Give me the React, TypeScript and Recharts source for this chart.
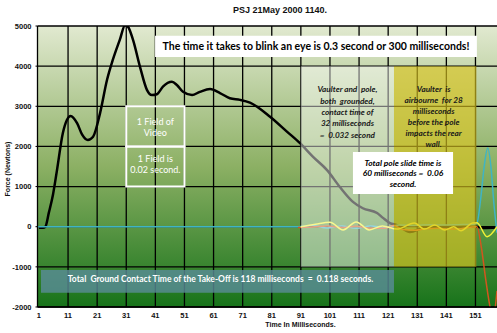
import React from "react"
import { LineChart, Line, XAxis, YAxis, CartesianGrid, ReferenceArea } from "recharts"

const xTicks = [1, 11, 21, 31, 41, 51, 61, 71, 81, 91, 101, 111, 121, 131, 141, 151]
const yTicks = [-2000, -1000, 0, 1000, 2000, 3000, 4000, 5000]
const minorTicks: number[] = []
for (let v = -2000; v <= 5000; v += 200) minorTicks.push(v)

// force plate trace (black)
const forceTime = [1, 2.4, 3.2, 4.4, 5.8, 7.2, 9.2, 10.6, 11.9, 14.1, 15.8, 17.8, 19.6, 22, 24.4, 26.4, 28.8, 30.6, 31.6, 33.3, 35.7, 38.1, 39.8, 41.5, 43.6, 46.7, 48.4, 50.5, 53.6, 56.3, 59.8, 63.2, 66.6, 70.1, 73.5, 80.4, 86.2, 90.7, 95.2, 100, 104.4, 108.9, 112.3, 117.2, 119.2, 121.6, 124, 128.5, 133, 137.8, 146.7, 151.5, 153.6, 158.4]
const forceNewtons = [-25, -25, 0, 350, 790, 1410, 2330, 2660, 2760, 2580, 2300, 2160, 2240, 2830, 3660, 4160, 4660, 5020, 4980, 4660, 3990, 3410, 3280, 3300, 3490, 3610, 3530, 3360, 3280, 3360, 3430, 3330, 3200, 3160, 3090, 2740, 2370, 2080, 1740, 1410, 990, 620, 460, 340, 220, 90, 40, -130, -30, 0, 0, 0, -30, -20]

// pole box traces
const cyanTime = [0.5, 90, 95, 100, 105, 110, 115, 120, 125, 130, 135, 140, 145, 150, 151.5, 152.8, 154, 155.2, 156.3, 157.3, 158.4]
const cyanValue = [0, 0, 30, -30, 20, -40, 20, -20, 40, 30, 50, 40, 50, 60, 90, 700, 1500, 1960, 1500, 600, -150]

const orangeTime = [90, 95, 100, 105, 110, 115, 120, 123, 126, 130, 134, 138, 142, 146, 150, 151.5, 153, 154.5, 156, 157, 158.4]
const orangeValue = [-20, -10, 20, -20, 10, -40, -40, 30, -70, -90, -50, -40, -60, -50, -10, 0, -500, -1300, -2000, -2300, -1600]

const yellowTime = [91, 96, 101, 105.5, 110, 114.5, 119, 124, 130, 133.5, 137, 140.5, 143.5, 146, 150, 151.5, 155, 158.4]
const yellowValue = [0, 60, 110, -80, 120, -80, 20, -60, 90, -60, 40, -80, 0, -100, 90, 100, -250, 0]

const toPoints = (t: number[], v: number[]) => t.map((x, i) => ({ t: x, v: v[i] }))

const forceData = toPoints(forceTime, forceNewtons)
const cyanData = toPoints(cyanTime, cyanValue)
const orangeData = toPoints(orangeTime, orangeValue)
const yellowData = toPoints(yellowTime, yellowValue)

const boxFont = "Lato, 'Open Sans', sans-serif"

type TextProps = {
  viewBox?: { x: number; y: number; width: number; height: number }
  lines: string[]
  top: number
  lineHeight: number
  size: number
  color: string
  italic?: boolean
  weight?: number
  shift?: number
}

function BoxText({ viewBox, lines, top, lineHeight, size, color, italic, weight, shift = 0 }: TextProps) {
  if (!viewBox) return null
  const cx = viewBox.x + viewBox.width / 2 + shift
  return (
    <text
      x={cx}
      y={viewBox.y + top}
      textAnchor="middle"
      fill={color}
      fontFamily={boxFont}
      fontSize={size}
      fontStyle={italic ? "italic" : "normal"}
      fontWeight={weight ?? 400}
    >
      {lines.map((l, i) => (
        <tspan key={i} x={cx} dy={i === 0 ? 0 : lineHeight} style={{ whiteSpace: "pre" }}>
          {l}
        </tspan>
      ))}
    </text>
  )
}

const axisFont = { fontFamily: "'Liberation Sans', Arial, sans-serif", fontSize: 7.5, fill: "#111", fontWeight: 700 }

export default function App() {
  return (
    <div style={{ position: "absolute", left: 0, top: 0, width: 497, height: 333, background: "#fff" }}>
      <LineChart width={497} height={333} margin={{ top: 26, right: 0, bottom: 6, left: 7.5 }}>
        <defs>
          <linearGradient id="bg" x1="0" y1="0" x2="0" y2="1">
            <stop offset="0%" stopColor="#e1e9d0" />
            <stop offset="50%" stopColor="#8cb064" />
            <stop offset="100%" stopColor="#17731a" />
          </linearGradient>
        </defs>
        <CartesianGrid
          stroke="#000"
          strokeWidth={1.3}
          fill="url(#bg)"
          fillOpacity={1}
          verticalValues={xTicks.slice(1)}
          horizontalValues={yTicks}
        />
        <XAxis
          dataKey="t"
          type="number"
          domain={[0.5, 158.4]}
          allowDataOverflow
          ticks={xTicks}
          interval={0}
          height={20}
          tickLine={false}
          tickSize={6}
          tickMargin={0}
          axisLine={{ stroke: "#000", strokeWidth: 1.3 }}
          tick={axisFont}
        />
        <YAxis
          type="number"
          domain={[-2000, 5000]}
          allowDataOverflow
          ticks={yTicks}
          interval={0}
          width={30}
          tickSize={2}
          tickMargin={4}
          tickLine={{ stroke: "#000" }}
          axisLine={{ stroke: "#000", strokeWidth: 1.3 }}
          tick={axisFont}
        />
        <YAxis
          yAxisId="minor"
          type="number"
          domain={[-2000, 5000]}
          ticks={minorTicks}
          interval={0}
          mirror
          axisLine={false}
          tick={false}
          tickSize={3}
          tickLine={{ stroke: "#000" }}
        />
        <Line data={forceData} dataKey="v" type="monotone" stroke="#000" strokeWidth={2.5} dot={false} isAnimationActive={false} />
        <Line data={cyanData} dataKey="v" type="monotone" stroke="#3fb4c4" strokeWidth={1.5} dot={false} isAnimationActive={false} />
        <Line data={orangeData} dataKey="v" type="monotone" stroke="#d2561e" strokeWidth={1.5} dot={false} isAnimationActive={false} />
        <Line data={yellowData} dataKey="v" type="monotone" stroke="#f2f236" strokeWidth={1.5} dot={false} isAnimationActive={false} />

        <ReferenceArea
          x1={91}
          x2={123}
          y1={-1000}
          y2={4000}
          fill="#ffffff"
          fillOpacity={0.45}
          stroke="none"
          zIndex={600}
          label={
            <BoxText
              lines={["Vaulter and  pole,", "both  grounded,", "contact time of", "32 milliseconds", "=  0.032 second"]}
              top={26.2}
              lineHeight={11.3}
              size={8.2}
              color="#1a1a1a"
              italic
              weight={700}
            />
          }
        />
        <ReferenceArea
          x1={123}
          x2={151.3}
          y1={-1000}
          y2={4000}
          fill="#dac420"
          fillOpacity={0.65}
          stroke="none"
          zIndex={600}
          label={
            <BoxText
              lines={["Vaulter  is", "airbourne  for 28", "milliseconds", "before the pole", "impacts the rear", "wall."]}
              top={25.7}
              lineHeight={11}
              size={8.2}
              color="#1a1a1a"
              italic
              weight={700}
              shift={-1.5}
            />
          }
        />
        <ReferenceArea
          x1={1.7}
          x2={123}
          y1={-1645}
          y2={-1080}
          fill="#5a8c98"
          fillOpacity={0.8}
          stroke="none"
          zIndex={600}
          label={
            <BoxText
              lines={["Total  Ground Contact Time of the Take-Off is 118 milliseconds  =  0.118 seconds."]}
              top={12.3}
              lineHeight={11}
              size={8.5}
              color="#ffffff"
              weight={700}
              shift={3}
            />
          }
        />
        <ReferenceArea
          x1={40.9}
          x2={151.5}
          y1={4230}
          y2={4755}
          fill="#ffffff"
          fillOpacity={1}
          stroke="none"
          zIndex={600}
          label={
            <BoxText
              lines={["The time it takes to blink an eye is 0.3 second or 300 milliseconds!"]}
              top={13.8}
              lineHeight={12}
              size={10.5}
              color="#000"
              weight={700}
            />
          }
        />
        <ReferenceArea
          x1={108.9}
          x2={143.3}
          y1={815}
          y2={1861}
          fill="#ffffff"
          fillOpacity={1}
          stroke="none"
          zIndex={600}
          label={
            <BoxText
              lines={["Total pole slide time is", "60 milliseconds =  0.06", "second."]}
              top={13.7}
              lineHeight={10.7}
              size={8.4}
              color="#000"
              italic
              weight={700}
            />
          }
        />
        <ReferenceArea
          x1={31}
          x2={51}
          y1={2000}
          y2={3000}
          fill="none"
          stroke="#ffffff"
          strokeWidth={2}
          zIndex={600}
          label={
            <BoxText lines={["1 Field of", "Video"]} top={18.6} lineHeight={11} size={9} color="#ffffff" />
          }
        />
        <ReferenceArea
          x1={31}
          x2={51}
          y1={1000}
          y2={2000}
          fill="none"
          stroke="#ffffff"
          strokeWidth={2}
          zIndex={600}
          label={
            <BoxText lines={["1 Field is", "0.02 second."]} top={15.5} lineHeight={11.5} size={9} color="#ffffff" />
          }
        />
      </LineChart>

      <div
        style={{
          position: "absolute",
          left: 180,
          width: 200,
          top: 4,
          textAlign: "center",
          fontFamily: "'Liberation Sans', Arial, sans-serif",
          fontWeight: 700,
          fontSize: 9,
          color: "#111",
          lineHeight: "12px",
        }}
      >
        PSJ 21May 2000 1140.
      </div>
      <div
        style={{
          position: "absolute",
          left: 230,
          width: 141,
          top: 319,
          textAlign: "center",
          fontFamily: "'Liberation Sans', Arial, sans-serif",
          fontWeight: 700,
          fontSize: 7,
          color: "#111",
          lineHeight: "12px",
        }}
      >
        Time In Milliseconds.
      </div>
      <div
        style={{
          position: "absolute",
          left: 8 - 40,
          width: 80,
          top: 169 - 6,
          textAlign: "center",
          transform: "rotate(-90deg)",
          fontFamily: "'Liberation Sans', Arial, sans-serif",
          fontWeight: 700,
          fontSize: 7,
          color: "#111",
          lineHeight: "12px",
        }}
      >
        Force (Newtons)
      </div>
    </div>
  )
}
